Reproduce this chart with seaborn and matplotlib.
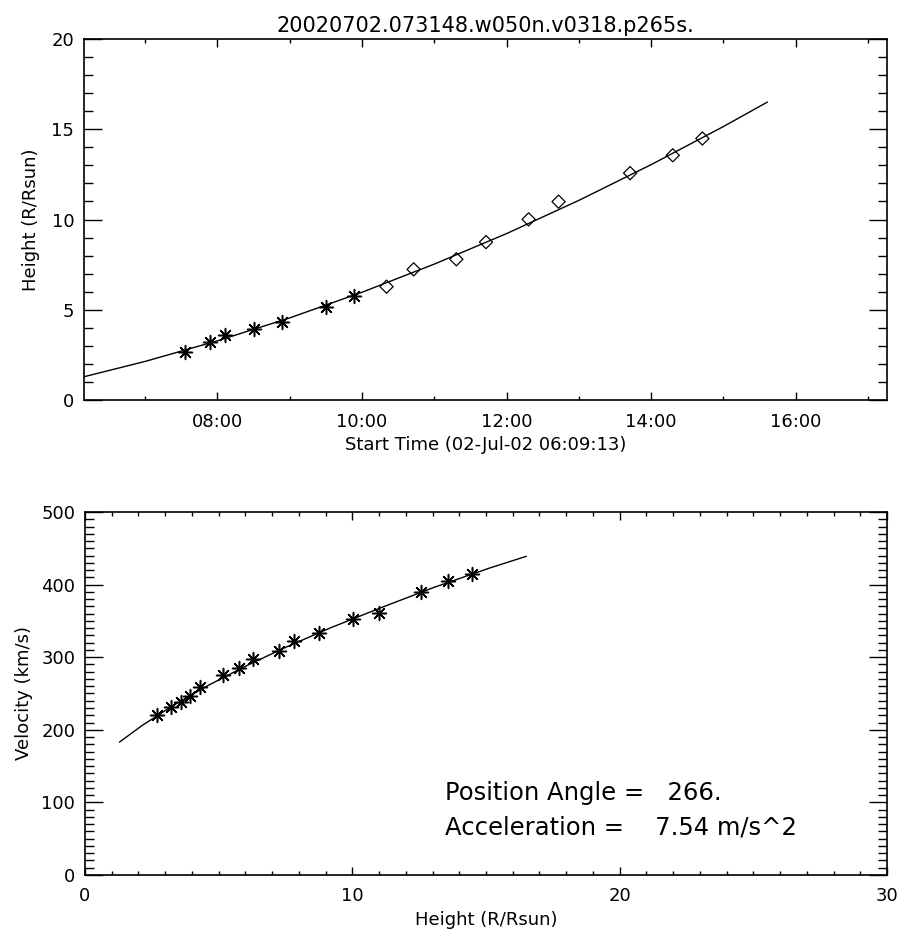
import matplotlib
matplotlib.use('Agg')
import matplotlib.pyplot as plt
import matplotlib.ticker as mticker
import seaborn as sns
import numpy as np

sns.set_style('ticks')
plt.rcParams['font.family'] = ['DejaVu Sans']
plt.rcParams['text.color'] = 'k'
plt.rcParams['axes.labelcolor'] = 'k'

# measured points (hours after 00:00 on 02-Jul-02, heights in Rsun)
c2_time = [7.548, 7.894, 8.111, 8.502, 8.895, 9.508, 9.895]
c2_height = [2.68, 3.20, 3.60, 3.92, 4.32, 5.17, 5.78]
c3_time = [10.34, 10.715, 11.306, 11.716, 12.306, 12.72, 13.71, 14.30, 14.71]
c3_height = [6.28, 7.24, 7.80, 8.75, 10.01, 10.99, 12.57, 13.56, 14.49]

# fitted curve
fit_time = [6.154, 7.0, 8.0, 9.0, 10.0, 11.0, 12.0, 13.0, 14.0, 15.0, 15.61]
fit_height = [1.29, 2.14, 3.28, 4.55, 5.97, 7.53, 9.22, 11.06, 13.04, 15.15, 16.51]
fit_vel = [183, 206, 233, 260, 287, 314, 341, 368, 396, 423, 439]

# velocity points (km/s), same heights as above
vel = [221, 231, 238, 247, 259, 275, 285, 297, 308, 323, 333, 352, 361, 390, 405, 415]
all_height = c2_height + c3_height

title = '20020702.073148.w050n.v0318.p265s.'
start_label = 'Start Time (02-Jul-02 06:09:13)'
pa_text = 'Position Angle =   266.'
acc_text = 'Acceleration =    7.54 m/s^2'

t0 = 6 + 9/60 + 13/3600
fig = plt.figure(figsize=(9, 9.34), dpi=100)
ax1 = fig.add_axes([0.0933, 0.5717, 0.8923, 0.3865])
ax2 = fig.add_axes([0.0944, 0.0632, 0.8912, 0.3886])

star = (8, 2, 0)

# top panel: height vs time
sns.lineplot(x=fit_time, y=fit_height, ax=ax1, color='k', lw=1, sort=False, estimator=None)
sns.scatterplot(x=c2_time, y=c2_height, ax=ax1, marker=star, s=100, color='k', edgecolor='k', linewidth=1.1)
sns.scatterplot(x=c3_time, y=c3_height, ax=ax1, marker='D', s=45, facecolor='none', edgecolor='k', linewidth=0.9)
ax1.set_xlim(t0, t0 + 40000/3600)
ax1.set_ylim(0, 20)
ax1.xaxis.set_major_locator(mticker.MultipleLocator(2))
ax1.xaxis.set_minor_locator(mticker.MultipleLocator(1))
ax1.xaxis.set_major_formatter(mticker.FuncFormatter(lambda v, p: '%02d:00' % int(round(v))))
ax1.yaxis.set_major_locator(mticker.MultipleLocator(5))
ax1.yaxis.set_minor_locator(mticker.MultipleLocator(1))
ax1.set_xlabel(start_label, fontsize=13, labelpad=4)
ax1.set_ylabel('Height (R/Rsun)', fontsize=13, labelpad=8)
ax1.set_title(title, fontsize=15, pad=5)

# bottom panel: velocity vs height
sns.lineplot(x=fit_height, y=fit_vel, ax=ax2, color='k', lw=1, sort=False, estimator=None)
sns.scatterplot(x=all_height, y=vel, ax=ax2, marker=star, s=100, color='k', edgecolor='k', linewidth=1.1)
ax2.set_xlim(0, 30)
ax2.set_ylim(0, 500)
ax2.xaxis.set_major_locator(mticker.MultipleLocator(10))
ax2.xaxis.set_minor_locator(mticker.MultipleLocator(1))
ax2.yaxis.set_major_locator(mticker.MultipleLocator(100))
ax2.yaxis.set_minor_locator(mticker.MultipleLocator(10))
ax2.set_xlabel('Height (R/Rsun)', fontsize=13, labelpad=4)
ax2.set_ylabel('Velocity (km/s)', fontsize=13, labelpad=6)
ax2.text(13.46, 113, pa_text, fontsize=17.5, va='center')
ax2.text(13.46, 65, acc_text, fontsize=17.5, va='center')

for ax in (ax1, ax2):
    for s in ax.spines.values():
        s.set_visible(True)
        s.set_linewidth(1.2)
        s.set_color('k')
    ax.tick_params(which='both', direction='in', top=True, right=True, colors='k', labelsize=13, width=1)
    ax.tick_params(axis='x', which='major', length=6, pad=9)
    ax.tick_params(axis='x', which='minor', length=3)
    ax.tick_params(axis='y', which='major', length=13, pad=7)
    ax.tick_params(axis='y', which='minor', length=6.5)

fig.savefig('out.png', dpi=100)
